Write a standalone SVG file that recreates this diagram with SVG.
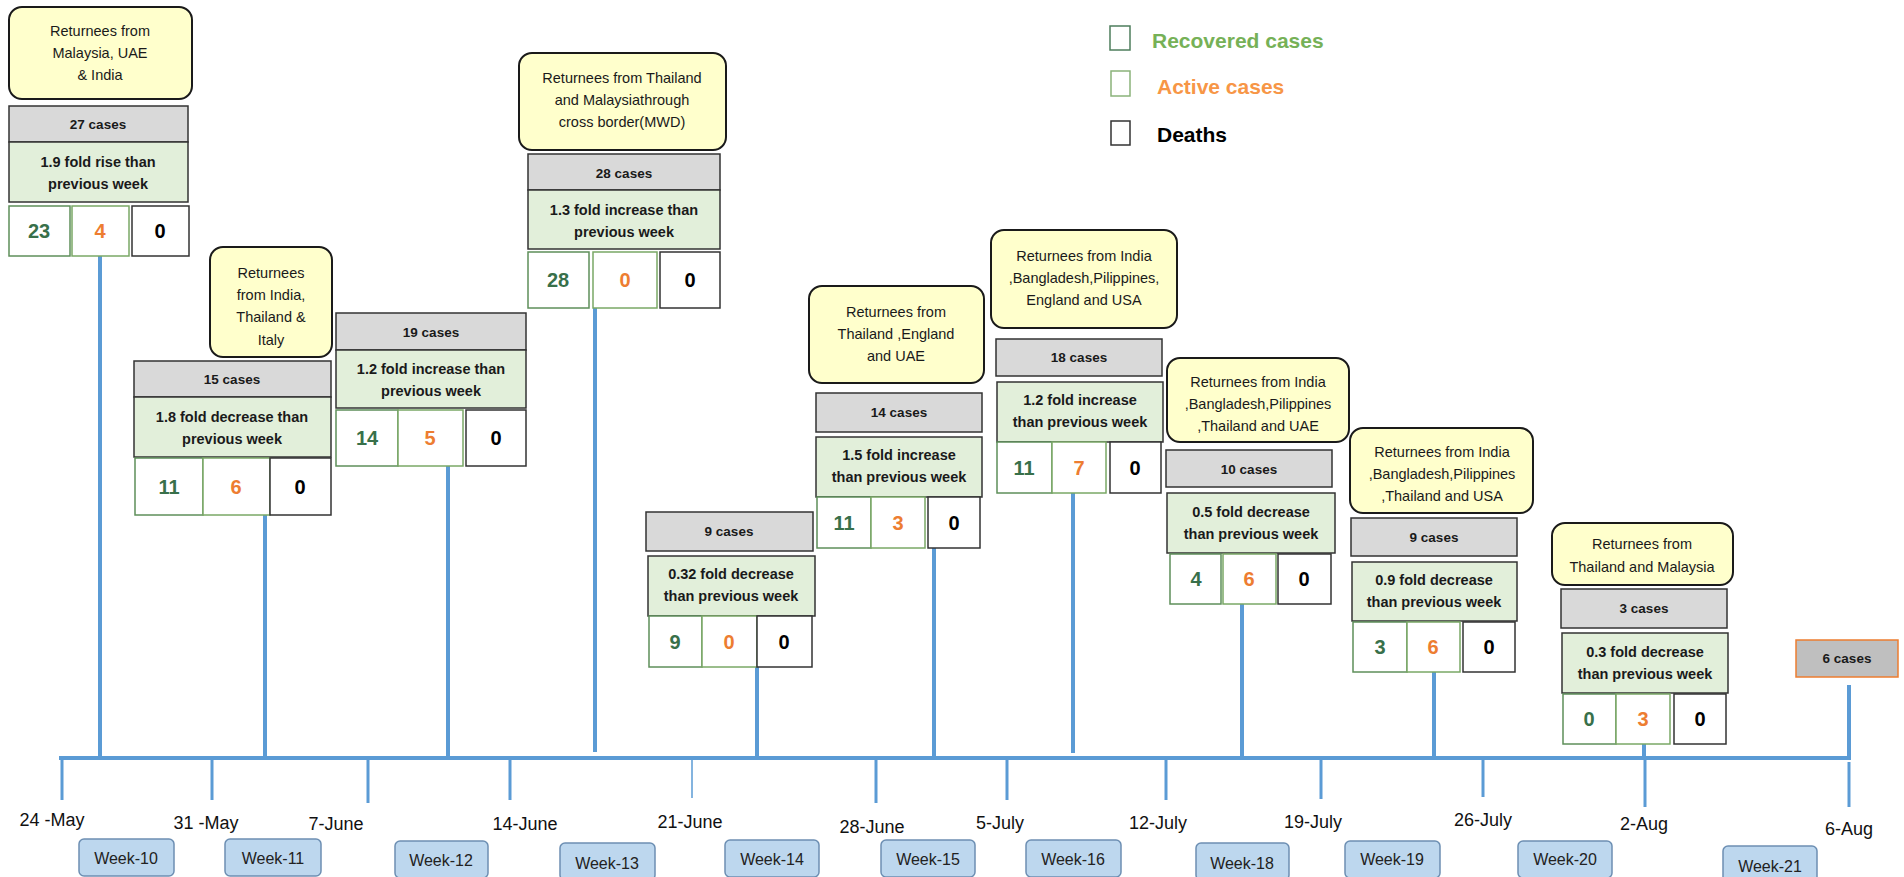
<svg xmlns="http://www.w3.org/2000/svg" width="1904" height="877" viewBox="0 0 1904 877">
<style>
text{font-family:"Liberation Sans",Arial,sans-serif;}
.yb{fill:#ffffcc;stroke:#1a1a1a;stroke-width:2;}
.yt{font-size:14.5px;fill:#1a1a1a;text-anchor:middle;dominant-baseline:central;}
.gb{fill:#d9d9d9;stroke:#333;stroke-width:1.5;}
.gt{font-size:13.5px;font-weight:bold;fill:#1a1a1a;text-anchor:middle;dominant-baseline:central;}
.fb{fill:#e2efda;stroke:#333;stroke-width:1.5;}
.ft{font-size:14.5px;font-weight:bold;fill:#1a1a1a;text-anchor:middle;dominant-baseline:central;}
.n1{fill:#fff;stroke:#5e8f5a;stroke-width:1.5;}
.n2{fill:#fff;stroke:#7aa866;stroke-width:1.5;}
.n3{fill:#fff;stroke:#333;stroke-width:1.5;}
.t1,.t2,.t3{font-size:20px;font-weight:bold;text-anchor:middle;dominant-baseline:central;}
.t1{fill:#38704a;}
.t2{fill:#ed7d31;}
.t3{fill:#000;}
.ln{stroke:#5b9bd5;stroke-width:4;fill:none;}
.tk{stroke:#5b9bd5;stroke-width:3;fill:none;}
.dt{font-size:18px;fill:#111;text-anchor:middle;dominant-baseline:central;}
.wb{fill:#bdd7ee;stroke:#6d8fb3;stroke-width:1.5;}
.wt{font-size:16px;fill:#222;text-anchor:middle;dominant-baseline:central;}
.lg{font-size:21px;font-weight:bold;}
</style>

<g id="connectors">
<path class="ln" d="M59,758 H1849 V685"/>
<line class="ln" x1="100" y1="256" x2="100" y2="758"/>
<line class="ln" x1="265" y1="515" x2="265" y2="758"/>
<line class="ln" x1="448" y1="466" x2="448" y2="758"/>
<line class="ln" x1="595" y1="308" x2="595" y2="752"/>
<line class="ln" x1="757" y1="667" x2="757" y2="760"/>
<line class="ln" x1="934" y1="546" x2="934" y2="758"/>
<line class="ln" x1="1073" y1="493" x2="1073" y2="753"/>
<line class="ln" x1="1242" y1="604" x2="1242" y2="758"/>
<line class="ln" x1="1434" y1="672" x2="1434" y2="758"/>
<line class="ln" x1="1644" y1="744" x2="1644" y2="758"/>
<line class="tk" x1="62" y1="760" x2="62" y2="800"/>
<line class="tk" x1="212" y1="760" x2="212" y2="800"/>
<line class="tk" x1="368" y1="760" x2="368" y2="803"/>
<line class="tk" x1="510" y1="760" x2="510" y2="800"/>
<line class="tk" x1="692" y1="760" x2="692" y2="798" style="stroke-width:1.5"/>
<line class="tk" x1="876" y1="760" x2="876" y2="803"/>
<line class="tk" x1="1007" y1="760" x2="1007" y2="800"/>
<line class="tk" x1="1166" y1="760" x2="1166" y2="800"/>
<line class="tk" x1="1321" y1="760" x2="1321" y2="799"/>
<line class="tk" x1="1483" y1="760" x2="1483" y2="797"/>
<line class="tk" x1="1645" y1="760" x2="1645" y2="807"/>
<line class="tk" x1="1849" y1="762" x2="1849" y2="807"/>
</g>

<g id="legend">
<rect x="1110" y="26" width="20" height="24" fill="none" stroke="#4e7d5c" stroke-width="1.5"/>
<text class="lg" x="1152" y="48" fill="#76b157">Recovered cases</text>
<rect x="1111" y="71" width="19" height="25" fill="none" stroke="#8ab37a" stroke-width="1.5"/>
<text class="lg" x="1157" y="94" fill="#f79646">Active cases</text>
<rect x="1111" y="121" width="19" height="24" fill="none" stroke="#333" stroke-width="1.5"/>
<text class="lg" x="1157" y="142" fill="#000">Deaths</text>
</g>

<g id="week10">
<rect class="yb" x="9" y="7" width="183" height="92" rx="13"/>
<text class="yt" x="100" y="31">Returnees from</text>
<text class="yt" x="100" y="53">Malaysia, UAE</text>
<text class="yt" x="100" y="75">&amp; India</text>
<rect class="gb" x="9" y="106" width="179" height="36"/>
<text class="gt" x="98" y="124">27 cases</text>
<rect class="fb" x="9" y="142" width="179" height="60"/>
<text class="ft" x="98" y="162">1.9 fold rise than</text>
<text class="ft" x="98" y="184">previous week</text>
<rect class="n1" x="9" y="206" width="61" height="50"/>
<rect class="n2" x="72" y="206" width="57" height="50"/>
<rect class="n3" x="132" y="206" width="57" height="50"/>
<text class="t1" x="39" y="231">23</text>
<text class="t2" x="100" y="231">4</text>
<text class="t3" x="160" y="231">0</text>
</g>

<g id="week11">
<rect class="yb" x="210" y="247" width="122" height="110" rx="13"/>
<text class="yt" x="271" y="273">Returnees</text>
<text class="yt" x="271" y="295">from India,</text>
<text class="yt" x="271" y="317">Thailand &amp;</text>
<text class="yt" x="271" y="340">Italy</text>
<rect class="gb" x="134" y="361" width="197" height="36"/>
<text class="gt" x="232" y="379">15 cases</text>
<rect class="fb" x="134" y="397" width="197" height="60"/>
<text class="ft" x="232" y="417">1.8 fold decrease than</text>
<text class="ft" x="232" y="439">previous week</text>
<rect class="n1" x="135" y="458" width="68" height="57"/>
<rect class="n2" x="203" y="458" width="67" height="57"/>
<rect class="n3" x="270" y="458" width="61" height="57"/>
<text class="t1" x="169" y="487">11</text>
<text class="t2" x="236" y="487">6</text>
<text class="t3" x="300" y="487">0</text>
</g>

<g id="week12">
<rect class="gb" x="336" y="313" width="190" height="37"/>
<text class="gt" x="431" y="332">19 cases</text>
<rect class="fb" x="336" y="350" width="190" height="58"/>
<text class="ft" x="431" y="369">1.2 fold increase than</text>
<text class="ft" x="431" y="391">previous week</text>
<rect class="n1" x="336" y="410" width="62" height="56"/>
<rect class="n2" x="398" y="410" width="65" height="56"/>
<rect class="n3" x="466" y="410" width="60" height="56"/>
<text class="t1" x="367" y="438">14</text>
<text class="t2" x="430" y="438">5</text>
<text class="t3" x="496" y="438">0</text>
</g>

<g id="week13">
<rect class="yb" x="519" y="53" width="207" height="97" rx="13"/>
<text class="yt" x="622" y="78">Returnees from Thailand</text>
<text class="yt" x="622" y="100">and Malaysiathrough</text>
<text class="yt" x="622" y="122">cross border(MWD)</text>
<rect class="gb" x="528" y="154" width="192" height="36"/>
<text class="gt" x="624" y="173">28 cases</text>
<rect class="fb" x="528" y="190" width="192" height="59"/>
<text class="ft" x="624" y="210">1.3 fold increase than</text>
<text class="ft" x="624" y="232">previous week</text>
<rect class="n1" x="528" y="252" width="61" height="56"/>
<rect class="n2" x="593" y="252" width="64" height="56"/>
<rect class="n3" x="660" y="252" width="60" height="56"/>
<text class="t1" x="558" y="280">28</text>
<text class="t2" x="625" y="280">0</text>
<text class="t3" x="690" y="280">0</text>
</g>

<g id="week14">
<rect class="gb" x="646" y="512" width="167" height="39"/>
<text class="gt" x="729" y="531">9 cases</text>
<rect class="fb" x="648" y="556" width="167" height="60"/>
<text class="ft" x="731" y="574">0.32 fold decrease</text>
<text class="ft" x="731" y="596">than previous week</text>
<rect class="n1" x="649" y="616" width="53" height="51"/>
<rect class="n2" x="702" y="616" width="55" height="51"/>
<rect class="n3" x="757" y="616" width="55" height="51"/>
<text class="t1" x="675" y="642">9</text>
<text class="t2" x="729" y="642">0</text>
<text class="t3" x="784" y="642">0</text>
</g>

<g id="week15">
<rect class="yb" x="809" y="286" width="175" height="97" rx="13"/>
<text class="yt" x="896" y="312">Returnees from</text>
<text class="yt" x="896" y="334">Thailand ,England</text>
<text class="yt" x="896" y="356">and UAE</text>
<rect class="gb" x="816" y="393" width="166" height="39"/>
<text class="gt" x="899" y="412">14 cases</text>
<rect class="fb" x="816" y="437" width="166" height="60"/>
<text class="ft" x="899" y="455">1.5 fold increase</text>
<text class="ft" x="899" y="477">than previous week</text>
<rect class="n1" x="817" y="497" width="54" height="51"/>
<rect class="n2" x="871" y="497" width="54" height="51"/>
<rect class="n3" x="928" y="497" width="52" height="51"/>
<text class="t1" x="844" y="523">11</text>
<text class="t2" x="898" y="523">3</text>
<text class="t3" x="954" y="523">0</text>
</g>

<g id="week16">
<rect class="yb" x="991" y="230" width="186" height="98" rx="13"/>
<text class="yt" x="1084" y="256">Returnees from India</text>
<text class="yt" x="1084" y="278">,Bangladesh,Pilippines,</text>
<text class="yt" x="1084" y="300">England and USA</text>
<rect class="gb" x="996" y="339" width="166" height="37"/>
<text class="gt" x="1079" y="357">18 cases</text>
<rect class="fb" x="997" y="382" width="166" height="60"/>
<text class="ft" x="1080" y="400">1.2 fold increase</text>
<text class="ft" x="1080" y="422">than previous week</text>
<rect class="n1" x="997" y="442" width="55" height="51"/>
<rect class="n2" x="1052" y="442" width="54" height="51"/>
<rect class="n3" x="1110" y="442" width="51" height="51"/>
<text class="t1" x="1024" y="468">11</text>
<text class="t2" x="1079" y="468">7</text>
<text class="t3" x="1135" y="468">0</text>
</g>

<g id="week18">
<rect class="yb" x="1167" y="358" width="182" height="84" rx="13"/>
<text class="yt" x="1258" y="382">Returnees from India</text>
<text class="yt" x="1258" y="404">,Bangladesh,Pilippines</text>
<text class="yt" x="1258" y="426">,Thailand and UAE</text>
<rect class="gb" x="1166" y="450" width="166" height="37"/>
<text class="gt" x="1249" y="469">10 cases</text>
<rect class="fb" x="1167" y="493" width="168" height="60"/>
<text class="ft" x="1251" y="512">0.5 fold decrease</text>
<text class="ft" x="1251" y="534">than previous week</text>
<rect class="n1" x="1170" y="554" width="51" height="50"/>
<rect class="n2" x="1223" y="554" width="53" height="50"/>
<rect class="n3" x="1278" y="554" width="53" height="50"/>
<text class="t1" x="1196" y="579">4</text>
<text class="t2" x="1249" y="579">6</text>
<text class="t3" x="1304" y="579">0</text>
</g>

<g id="week19">
<rect class="yb" x="1350" y="428" width="183" height="85" rx="13"/>
<text class="yt" x="1442" y="452">Returnees from India</text>
<text class="yt" x="1442" y="474">,Bangladesh,Pilippines</text>
<text class="yt" x="1442" y="496">,Thailand and USA</text>
<rect class="gb" x="1351" y="518" width="166" height="38"/>
<text class="gt" x="1434" y="537">9 cases</text>
<rect class="fb" x="1352" y="562" width="165" height="59"/>
<text class="ft" x="1434" y="580">0.9 fold decrease</text>
<text class="ft" x="1434" y="602">than previous week</text>
<rect class="n1" x="1353" y="622" width="54" height="50"/>
<rect class="n2" x="1407" y="622" width="53" height="50"/>
<rect class="n3" x="1463" y="622" width="52" height="50"/>
<text class="t1" x="1380" y="647">3</text>
<text class="t2" x="1433" y="647">6</text>
<text class="t3" x="1489" y="647">0</text>
</g>

<g id="week20">
<rect class="yb" x="1552" y="523" width="181" height="62" rx="13"/>
<text class="yt" x="1642" y="544">Returnees from</text>
<text class="yt" x="1642" y="567">Thailand and Malaysia</text>
<rect class="gb" x="1561" y="589" width="166" height="39"/>
<text class="gt" x="1644" y="608">3 cases</text>
<rect class="fb" x="1562" y="633" width="166" height="60"/>
<text class="ft" x="1645" y="652">0.3 fold decrease</text>
<text class="ft" x="1645" y="674">than previous week</text>
<rect class="n1" x="1563" y="694" width="53" height="50"/>
<rect class="n2" x="1616" y="694" width="54" height="50"/>
<rect class="n3" x="1674" y="694" width="52" height="50"/>
<text class="t1" x="1589" y="719">0</text>
<text class="t2" x="1643" y="719">3</text>
<text class="t3" x="1700" y="719">0</text>
</g>

<g id="week21">
<rect x="1796" y="640" width="102" height="37" fill="#bfbfbf" stroke="#ed7d31" stroke-width="1.5"/>
<text class="gt" x="1847" y="658">6 cases</text>
</g>

<g id="dates">
<text class="dt" x="52" y="820">24 -May</text>
<text class="dt" x="206" y="823">31 -May</text>
<text class="dt" x="336" y="824">7-June</text>
<text class="dt" x="525" y="824">14-June</text>
<text class="dt" x="690" y="822">21-June</text>
<text class="dt" x="872" y="827">28-June</text>
<text class="dt" x="1000" y="823">5-July</text>
<text class="dt" x="1158" y="823">12-July</text>
<text class="dt" x="1313" y="822">19-July</text>
<text class="dt" x="1483" y="820">26-July</text>
<text class="dt" x="1644" y="824">2-Aug</text>
<text class="dt" x="1849" y="829">6-Aug</text>
</g>

<g id="weeks">
<rect class="wb" x="79" y="839" width="95" height="37" rx="5"/><text class="wt" x="126" y="858">Week-10</text>
<rect class="wb" x="225" y="839" width="96" height="37" rx="5"/><text class="wt" x="273" y="858">Week-11</text>
<rect class="wb" x="395" y="841" width="93" height="37" rx="5"/><text class="wt" x="441" y="860">Week-12</text>
<rect class="wb" x="560" y="843" width="95" height="37" rx="5"/><text class="wt" x="607" y="863">Week-13</text>
<rect class="wb" x="725" y="840" width="94" height="37" rx="5"/><text class="wt" x="772" y="859">Week-14</text>
<rect class="wb" x="881" y="840" width="94" height="37" rx="5"/><text class="wt" x="928" y="859">Week-15</text>
<rect class="wb" x="1026" y="840" width="95" height="37" rx="5"/><text class="wt" x="1073" y="859">Week-16</text>
<rect class="wb" x="1196" y="843" width="93" height="37" rx="5"/><text class="wt" x="1242" y="863">Week-18</text>
<rect class="wb" x="1345" y="841" width="95" height="37" rx="5"/><text class="wt" x="1392" y="859">Week-19</text>
<rect class="wb" x="1518" y="841" width="94" height="37" rx="5"/><text class="wt" x="1565" y="859">Week-20</text>
<rect class="wb" x="1723" y="846" width="94" height="37" rx="5"/><text class="wt" x="1770" y="866">Week-21</text>
</g>
</svg>
